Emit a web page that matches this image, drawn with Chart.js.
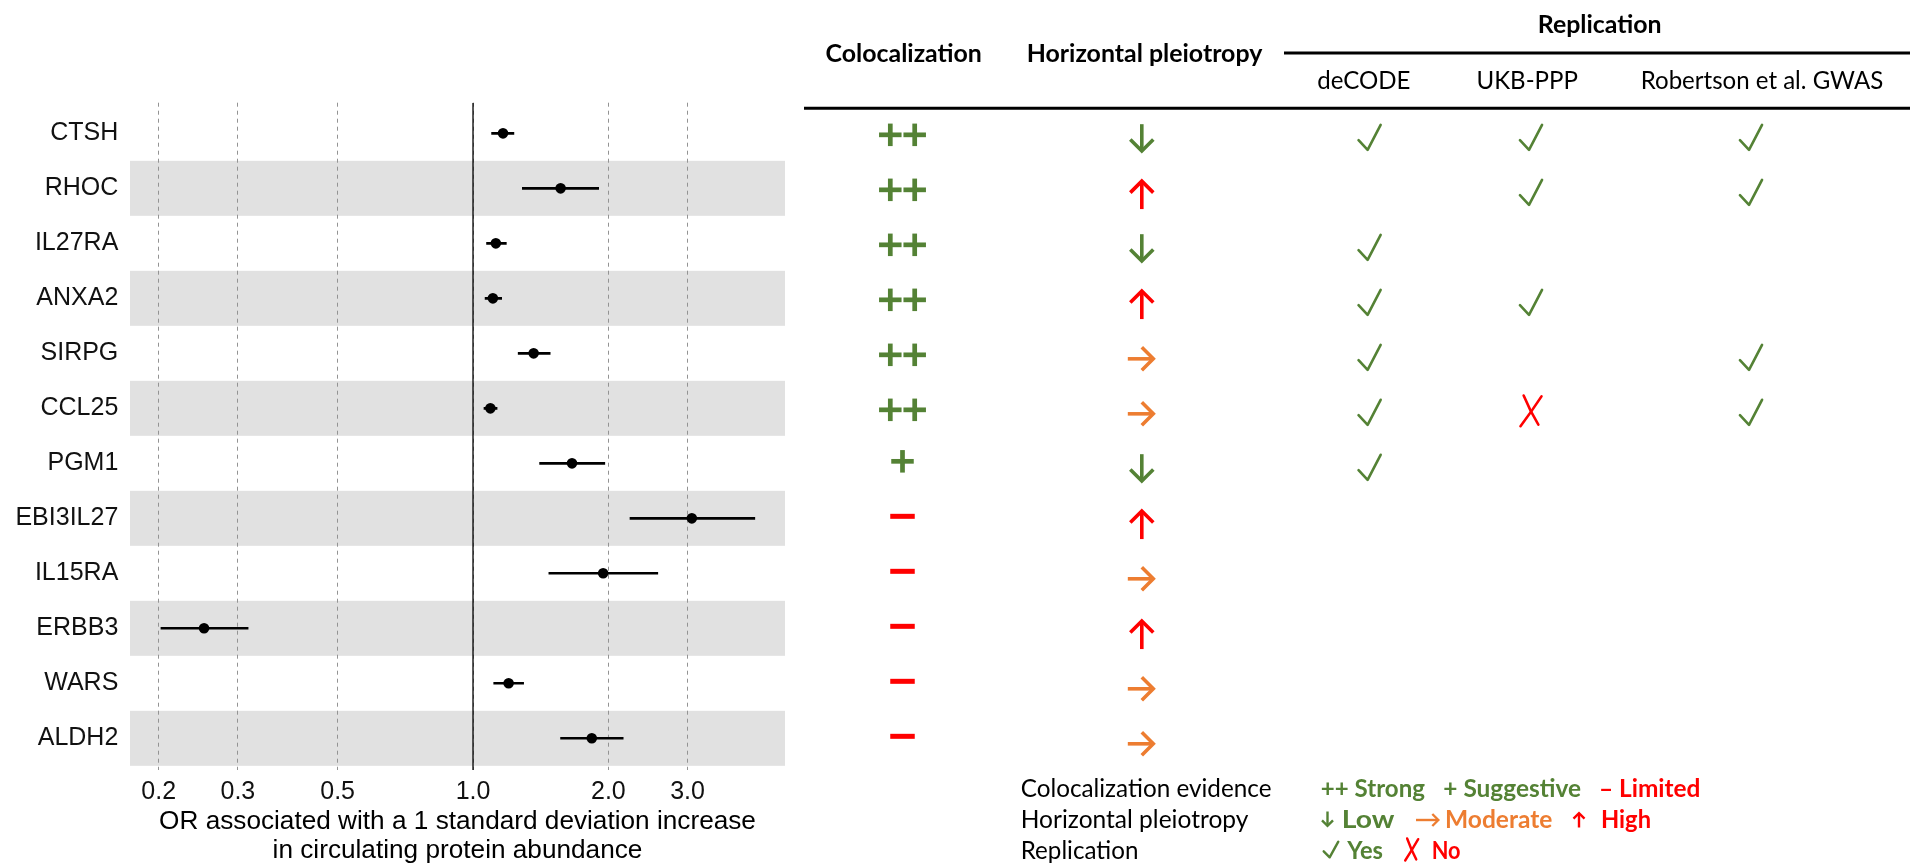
<!DOCTYPE html>
<html><head><meta charset="utf-8">
<script src="https://cdn.jsdelivr.net/npm/chart.js@4.4.1/dist/chart.umd.min.js"></script>
<style>html,body{margin:0;padding:0;background:#fff;overflow:hidden}canvas{display:block}</style>
</head><body>
<div style="position:relative;width:1910px;height:864px"><canvas id="c" width="1910" height="864"></canvas></div>
<script>
// ---------- data ----------
const proteins = ['CTSH','RHOC','IL27RA','ANXA2','SIRPG','CCL25','PGM1','EBI3IL27','IL15RA','ERBB3','WARS','ALDH2'];
const orEstimate = [1.166,1.566,1.124,1.107,1.364,1.093,1.66,3.066,1.947,0.2523,1.20,1.837];
const orLower    = [1.098,1.285,1.070,1.062,1.258,1.056,1.404,2.23,1.472,0.202,1.110,1.563];
const orUpper    = [1.235,1.906,1.188,1.160,1.487,1.133,1.967,4.24,2.58,0.3167,1.298,2.161];
const xTicks = [0.2,0.3,0.5,1.0,2.0,3.0];
const xTickLabels = ['0.2','0.3','0.5','1.0','2.0','3.0'];
const colocalization = ['++','++','++','++','++','++','+','-','-','-','-','-'];
const pleiotropy = ['low','high','low','high','moderate','moderate','low','high','moderate','high','moderate','moderate'];
const repDeCODE    = ['yes','','yes','yes','yes','yes','yes','','','','',''];
const repUKBPPP    = ['yes','yes','','yes','','no','','','','','',''];
const repRobertson = ['yes','yes','','','yes','yes','','','','','',''];
const xTitle = ['OR associated with a 1 standard deviation increase','in circulating protein abundance'];

// ---------- style ----------
const GREEN = '#548235', ORANGE = '#ED7D31', RED = '#FF0000';
const AX_FONT = 'Liberation Sans';
const TAB_FONT = 'Lato';

function fitSize(ctx, text, weight, family, target) {
  ctx.font = weight + ' 100px "' + family + '"';
  return 100 * target / ctx.measureText(text).width;
}
function fillFit(ctx, text, x, y, target) {
  const w = ctx.measureText(text).width;
  ctx.save(); ctx.translate(x, y); ctx.scale(target / w, 1); ctx.fillText(text, 0, 0); ctx.restore();
}
function drawPlus(ctx, cx, cy, s, t, color) {
  ctx.fillStyle = color;
  ctx.fillRect(cx - s/2, cy - t/2, s, t);
  ctx.fillRect(cx - t/2, cy - s/2, t, s);
}
function drawMinus(ctx, cx, cy, w, t, color) {
  ctx.fillStyle = color; ctx.fillRect(cx - w/2, cy - t/2, w, t);
}
function drawArrow(ctx, cx, cy, dir, len, head, lw, color) {
  ctx.save(); ctx.translate(cx, cy);
  ctx.rotate({down: Math.PI/2, up: -Math.PI/2, right: 0}[dir]);
  ctx.strokeStyle = color; ctx.lineWidth = lw; ctx.lineCap = 'butt'; ctx.lineJoin = 'miter';
  const tip = len/2 - lw*0.7;
  ctx.beginPath(); ctx.moveTo(-len/2, 0); ctx.lineTo(tip - lw*0.3, 0); ctx.stroke();
  ctx.beginPath(); ctx.moveTo(tip - head, -head); ctx.lineTo(tip, 0); ctx.lineTo(tip - head, head); ctx.stroke();
  ctx.restore();
}
function drawCheck(ctx, cx, cy, w, h, lw, color) {
  const x0 = cx - w/2, y0 = cy - h/2;
  ctx.save();
  ctx.strokeStyle = color; ctx.lineWidth = lw; ctx.lineCap = 'round'; ctx.lineJoin = 'round';
  ctx.beginPath(); ctx.moveTo(x0 + lw/2, y0 + 0.6*h); ctx.lineTo(x0 + 0.42*w, y0 + h - lw/2); ctx.lineTo(x0 + w - lw/2, y0 + lw/2); ctx.stroke();
  ctx.restore();
}
function drawCross(ctx, cx, cy, w, h, lw, color) {
  const x0 = cx - w/2, y0 = cy - h/2;
  ctx.save();
  ctx.strokeStyle = color; ctx.lineWidth = lw; ctx.lineCap = 'round';
  ctx.beginPath(); ctx.moveTo(x0 + 0.15*w, y0); ctx.quadraticCurveTo(x0 + 0.45*w, y0 + 0.5*h, x0 + 0.85*w, y0 + h*0.95); ctx.stroke();
  ctx.beginPath(); ctx.moveTo(x0 + w, y0 + 0.03*h); ctx.quadraticCurveTo(x0 + 0.55*w, y0 + 0.5*h, x0, y0 + h); ctx.stroke();
  ctx.restore();
}

// bands behind the forest plot (alternate rows)
const bandPlugin = {
  id: 'bands',
  beforeDraw(chart) {
    const {ctx, chartArea: a, scales: {y}} = chart;
    ctx.save(); ctx.fillStyle = '#e1e1e1';
    proteins.forEach((p, i) => {
      if (i % 2 === 1) {
        const t = y.getPixelForValue(i - 0.5), b = y.getPixelForValue(i + 0.5);
        ctx.fillRect(a.left, t, a.right - a.left, b - t);
      }
    });
    ctx.restore();
  }
};

// table of evidence, rows aligned on the forest plot's y scale
const COLS = {coloc: 902.5, pleio: 1141.8, decode: 1369.6, ukb: 1531, rob: 1751};
const tablePlugin = {
  id: 'table',
  afterDraw(chart) {
    const {ctx, scales: {y}} = chart;
    ctx.save();
    // headers
    const bSize = fitSize(ctx, 'Horizontal pleiotropy', 'bold', TAB_FONT, 235.7);
    const rSize = fitSize(ctx, 'Robertson et al. GWAS', 'normal', TAB_FONT, 242.7);
    ctx.fillStyle = '#000'; ctx.textAlign = 'center'; ctx.textBaseline = 'alphabetic';
    ctx.font = 'bold ' + bSize + 'px "' + TAB_FONT + '"';
    ctx.fillText('Colocalization', 903.7, 61.7);
    ctx.fillText('Horizontal pleiotropy', 1144.5, 61.7);
    ctx.fillText('Replication', 1599.7, 33.3);
    ctx.font = rSize + 'px "' + TAB_FONT + '"';
    ctx.fillText('deCODE', 1363.8, 89.3);
    ctx.fillText('UKB-PPP', 1527.2, 89.3);
    ctx.fillText('Robertson et al. GWAS', 1762, 89.3);
    ctx.strokeStyle = '#000'; ctx.lineWidth = 3;
    ctx.beginPath(); ctx.moveTo(1284, 53); ctx.lineTo(1910, 53); ctx.stroke();
    ctx.beginPath(); ctx.moveTo(804, 108.3); ctx.lineTo(1910, 108.3); ctx.stroke();

    // cells
    proteins.forEach((p, i) => {
      const ry = y.getPixelForValue(i);
      const c = colocalization[i];
      if (c === '++') { drawPlus(ctx, COLS.coloc - 12.2, ry + 1.5, 22.5, 4.7, GREEN); drawPlus(ctx, COLS.coloc + 12.2, ry + 1.5, 22.5, 4.7, GREEN); }
      else if (c === '+') drawPlus(ctx, COLS.coloc, ry - 2, 22.5, 4.7, GREEN);
      else if (c === '-') drawMinus(ctx, COLS.coloc, ry - 2, 24.5, 5, RED);
      const h = pleiotropy[i];
      if (h === 'low') drawArrow(ctx, COLS.pleio, ry + 5.5, 'down', 29.3, 11.5, 3.6, GREEN);
      else if (h === 'high') drawArrow(ctx, COLS.pleio, ry + 5.5, 'up', 30.5, 11.5, 3.6, RED);
      else if (h === 'moderate') drawArrow(ctx, COLS.pleio, ry + 5.5, 'right', 28, 11.5, 3.6, ORANGE);
      [[repDeCODE, COLS.decode], [repUKBPPP, COLS.ukb], [repRobertson, COLS.rob]].forEach(([arr, cx]) => {
        if (arr[i] === 'yes') drawCheck(ctx, cx, ry + 4, 24.7, 27.7, 2.6, GREEN);
        else if (arr[i] === 'no') drawCross(ctx, cx, ry + 2.5, 21, 30.7, 2.6, RED);
      });
    });

    // legend
    const lSize = fitSize(ctx, 'Colocalization evidence', 'normal', TAB_FONT, 251);
    const reg = lSize + 'px "' + TAB_FONT + '"', bold = 'bold ' + lSize + 'px "' + TAB_FONT + '"';
    ctx.textAlign = 'left'; ctx.textBaseline = 'alphabetic';
    ctx.font = reg; ctx.fillStyle = '#000';
    ctx.fillText('Colocalization evidence', 1020.7, 796.7);
    fillFit(ctx, 'Horizontal pleiotropy', 1020.7, 827.7, 227.7);
    fillFit(ctx, 'Replication', 1020.7, 858.7, 117.7);
    ctx.font = bold;
    ctx.fillStyle = GREEN; fillFit(ctx, '++ Strong', 1320.8, 796.7, 104.1); fillFit(ctx, '+ Suggestive', 1443.3, 796.7, 137.7);
    ctx.fillStyle = RED; fillFit(ctx, '\u2013 Limited', 1598.9, 796.7, 101.5);
    drawArrow(ctx, 1327.5, 819.5, 'down', 16, 5.5, 2.4, GREEN);
    ctx.fillStyle = GREEN; fillFit(ctx, 'Low', 1341.7, 827.7, 52.6);
    drawArrow(ctx, 1428, 820, 'right', 24, 6, 2.4, ORANGE);
    ctx.fillStyle = ORANGE; fillFit(ctx, 'Moderate', 1445, 827.7, 107.4);
    drawArrow(ctx, 1579, 819.5, 'up', 16, 5.5, 2.4, RED);
    ctx.fillStyle = RED; fillFit(ctx, 'High', 1601, 827.7, 50);
    drawCheck(ctx, 1331, 849.5, 17, 18, 2.4, GREEN);
    ctx.fillStyle = GREEN; fillFit(ctx, 'Yes', 1347.3, 858.7, 35.7);
    drawCross(ctx, 1411.7, 849.5, 13, 22, 2.4, RED);
    ctx.fillStyle = RED; fillFit(ctx, 'No', 1431.7, 858.7, 28.9);
    ctx.restore();
  }
};

function build() {
  const Y_MIN = -0.557, Y_MAX = 11.576;
  const ciData = [];
  proteins.forEach((p, i) => { ciData.push({x: orLower[i], y: i}, {x: orUpper[i], y: i}, {x: null, y: null}); });
  const ptData = proteins.map((p, i) => ({x: orEstimate[i], y: i}));
  const refData = [{x: 1, y: Y_MIN}, {x: 1, y: Y_MAX}];

  new Chart(document.getElementById('c'), {
    type: 'scatter',
    data: {
      datasets: [
        {label: 'OR', data: ptData, pointRadius: 5.3, pointHoverRadius: 5.3, backgroundColor: '#000', borderColor: '#000', borderWidth: 0, showLine: false},
        {label: 'CI', data: ciData, showLine: true, spanGaps: false, pointRadius: 0, borderColor: '#000', borderWidth: 2.6},
        {label: 'ref', data: refData, showLine: true, pointRadius: 0, borderColor: '#000', borderWidth: 1.3}
      ]
    },
    options: {
      responsive: false, animation: false, devicePixelRatio: 1,
      layout: {padding: {left: 0, right: 1125, top: 102.7, bottom: 0}},
      plugins: {legend: {display: false}, tooltip: {enabled: false}},
      scales: {
        x: {
          type: 'logarithmic', min: 0.1727, max: 4.94,
          afterBuildTicks: s => { s.ticks = xTicks.map(v => ({value: v})); },
          afterFit: s => { s.height = 94; },
          ticks: {autoSkip: false, maxRotation: 0, padding: 6.7, color: '#111',
            font: {family: AX_FONT, size: 25},
            callback: v => xTickLabels[xTicks.indexOf(v)]},
          grid: {color: '#939393', lineWidth: 1, drawTicks: false},
          border: {display: false, dash: [4, 4]},
          title: {display: true, text: xTitle, color: '#000', padding: {top: 0, bottom: -1.5},
            font: {family: AX_FONT, size: 26.2, lineHeight: 1.103}}
        },
        y: {
          type: 'linear', reverse: true, min: Y_MIN, max: Y_MAX,
          afterBuildTicks: s => { s.ticks = proteins.map((p, i) => ({value: i})); },
          afterFit: s => { s.width = 130; },
          ticks: {autoSkip: false, padding: 11.7, color: '#111',
            font: {family: AX_FONT, size: 25},
            callback: v => proteins[v]},
          grid: {display: false, drawTicks: false},
          border: {display: false}
        }
      }
    },
    plugins: [bandPlugin, tablePlugin]
  });
}

Promise.all([
  document.fonts.load('25px "Liberation Sans"'),
  document.fonts.load('20px "Lato"'),
  document.fonts.load('bold 20px "Lato"')
]).then(build, build);
</script>
</body></html>
